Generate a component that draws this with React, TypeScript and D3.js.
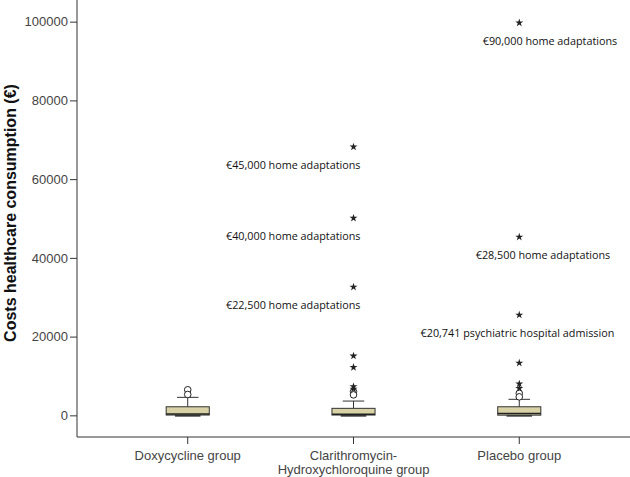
import { useEffect, useRef } from 'react'
import * as d3 from 'd3'

// Groups on the x axis (line breaks split the tick label)
const groups = ['Doxycycline group', 'Clarithromycin-\nHydroxychloroquine group', 'Placebo group']

// Box statistics per group (€)
const whiskerLow = [0, 0, 0]
const q1 = [80, 80, 50]
const median = [330, 300, 500]
const q3 = [2180, 1780, 2180]
const whiskerHigh = [4570, 3630, 4070]

// Outliers: circles (mild) and stars (extreme)
const circleOutliers = [
  [6500, 5300],
  [6000, 5200],
  [5600, 4700]
]
const starOutliers = [
  [],
  [6700, 7300, 12200, 15100, 32600, 50100, 68200],
  [6900, 8000, 13300, 25500, 45300, 99700]
]

// Annotated outliers: group index, value, text
const annotations = [
  { group: 1, value: 68200, text: '€45,000 home adaptations' },
  { group: 1, value: 50100, text: '€40,000 home adaptations' },
  { group: 1, value: 32600, text: '€22,500 home adaptations' },
  { group: 2, value: 99700, text: '€90,000 home adaptations' },
  { group: 2, value: 45300, text: '€28,500 home adaptations' },
  { group: 2, value: 25500, text: '€20,741 psychiatric hospital admission' }
]
// horizontal offset of the right end of each annotation from its star
const annotationDx = [7, 7, 7, 98, 91, 95]

const yTicks = [0, 20000, 40000, 60000, 80000, 100000]

const App = () => {
  const svgRef = useRef<SVGSVGElement>(null)

  useEffect(() => {
    if (!svgRef.current) return
    d3.select(svgRef.current).selectAll('*').remove()

    const width = 630
    const height = 477
    const left = 77
    const bottom = 437
    const axisColor = '#333'
    const boxFill = '#d8d2a6'

    const svg = d3.select(svgRef.current).attr('width', width).attr('height', height)

    const x = d3
      .scaleBand<string>()
      .domain(groups)
      .range([left, width])
      .paddingInner(0)
      .paddingOuter(0.168)
    const y = d3.scaleLinear().domain([-5500, 105500]).range([bottom, 0])

    const cx = (i: number) => (x(groups[i]) as number) + x.bandwidth() / 2
    const boxW = x.bandwidth() * 0.26
    const capW = boxW / 2

    // Axes
    const yAxis = svg
      .append('g')
      .attr('transform', `translate(${left},0)`)
      .call(d3.axisLeft(y).tickValues(yTicks).tickSize(7).tickPadding(2).tickFormat(d3.format('d')).tickSizeOuter(0))
    yAxis.select('.domain').attr('stroke', axisColor).attr('d', `M0,0V${bottom}`)
    yAxis.selectAll('line').attr('stroke', axisColor)
    yAxis
      .selectAll('text')
      .attr('fill', '#444')
      .style('font-family', '"Liberation Sans", Arial, sans-serif')
      .style('font-size', '13px')

    const xAxis = svg
      .append('g')
      .attr('transform', `translate(0,${bottom})`)
      .call(d3.axisBottom(x).tickSize(7).tickSizeOuter(0))
    xAxis.select('.domain').attr('stroke', axisColor).attr('d', `M${left},0H${width}`)
    xAxis.selectAll('line').attr('stroke', axisColor)
    xAxis.selectAll('text').remove()
    xAxis
      .selectAll('.tick')
      .append('text')
      .attr('fill', '#444')
      .attr('text-anchor', 'middle')
      .style('font-family', '"Liberation Sans", Arial, sans-serif')
      .style('font-size', '13px')
      .each(function (d: any) {
        const lines = String(d).split('\n')
        lines.forEach((line, k) => {
          d3.select(this)
            .append('tspan')
            .attr('x', 0)
            .attr('y', 23 + k * 14)
            .text(line)
        })
      })

    // Y axis title
    svg
      .append('text')
      .attr('transform', `translate(16,${213}) rotate(-90)`)
      .attr('text-anchor', 'middle')
      .style('font-family', '"Liberation Sans", Arial, sans-serif')
      .style('font-size', '16px')
      .style('font-weight', 'bold')
      .attr('fill', '#111')
      .text('Costs healthcare consumption (€)')

    const g = svg.append('g')

    groups.forEach((_, i) => {
      const c = cx(i)

      // whiskers
      g.append('line')
        .attr('x1', c).attr('x2', c)
        .attr('y1', y(whiskerHigh[i])).attr('y2', y(q3[i]))
        .attr('stroke', axisColor)
      g.append('line')
        .attr('x1', c - capW / 2).attr('x2', c + capW / 2)
        .attr('y1', y(whiskerHigh[i])).attr('y2', y(whiskerHigh[i]))
        .attr('stroke', axisColor)
      g.append('line')
        .attr('x1', c - capW / 2 - 2).attr('x2', c + capW / 2 + 2)
        .attr('y1', y(whiskerLow[i]) + 0.5).attr('y2', y(whiskerLow[i]) + 0.5)
        .attr('stroke', '#222')
        .attr('stroke-width', 1.5)

      // box
      g.append('rect')
        .attr('x', c - boxW / 2)
        .attr('y', y(q3[i]))
        .attr('width', boxW)
        .attr('height', y(q1[i]) - y(q3[i]))
        .attr('fill', boxFill)
        .attr('stroke', axisColor)
      g.append('line')
        .attr('x1', c - boxW / 2).attr('x2', c + boxW / 2)
        .attr('y1', y(median[i])).attr('y2', y(median[i]))
        .attr('stroke', '#222')
        .attr('stroke-width', 1.5)

      // mild outliers
      circleOutliers[i].forEach(v => {
        g.append('circle')
          .attr('cx', c)
          .attr('cy', y(v))
          .attr('r', 3.3)
          .attr('fill', 'white')
          .attr('stroke', '#222')
      })

      // extreme outliers
      starOutliers[i].forEach(v => {
        g.append('path')
          .attr('d', d3.symbol().type(d3.symbolStar).size(20)())
          .attr('transform', `translate(${c},${y(v)})`)
          .attr('fill', '#222')
      })
    })

    // annotations
    annotations.forEach((a, k) => {
      g.append('text')
        .attr('x', cx(a.group) + annotationDx[k])
        .attr('y', y(a.value) + 22)
        .attr('text-anchor', 'end')
        .style('font-family', '"Open Sans", "Noto Sans", sans-serif')
        .style('font-size', '10.8px')
        .attr('fill', '#111')
        .text(a.text)
    })
  }, [])

  return <svg ref={svgRef} style={{ position: 'absolute', left: 0, top: 0, background: 'white' }} />
}

export default App
